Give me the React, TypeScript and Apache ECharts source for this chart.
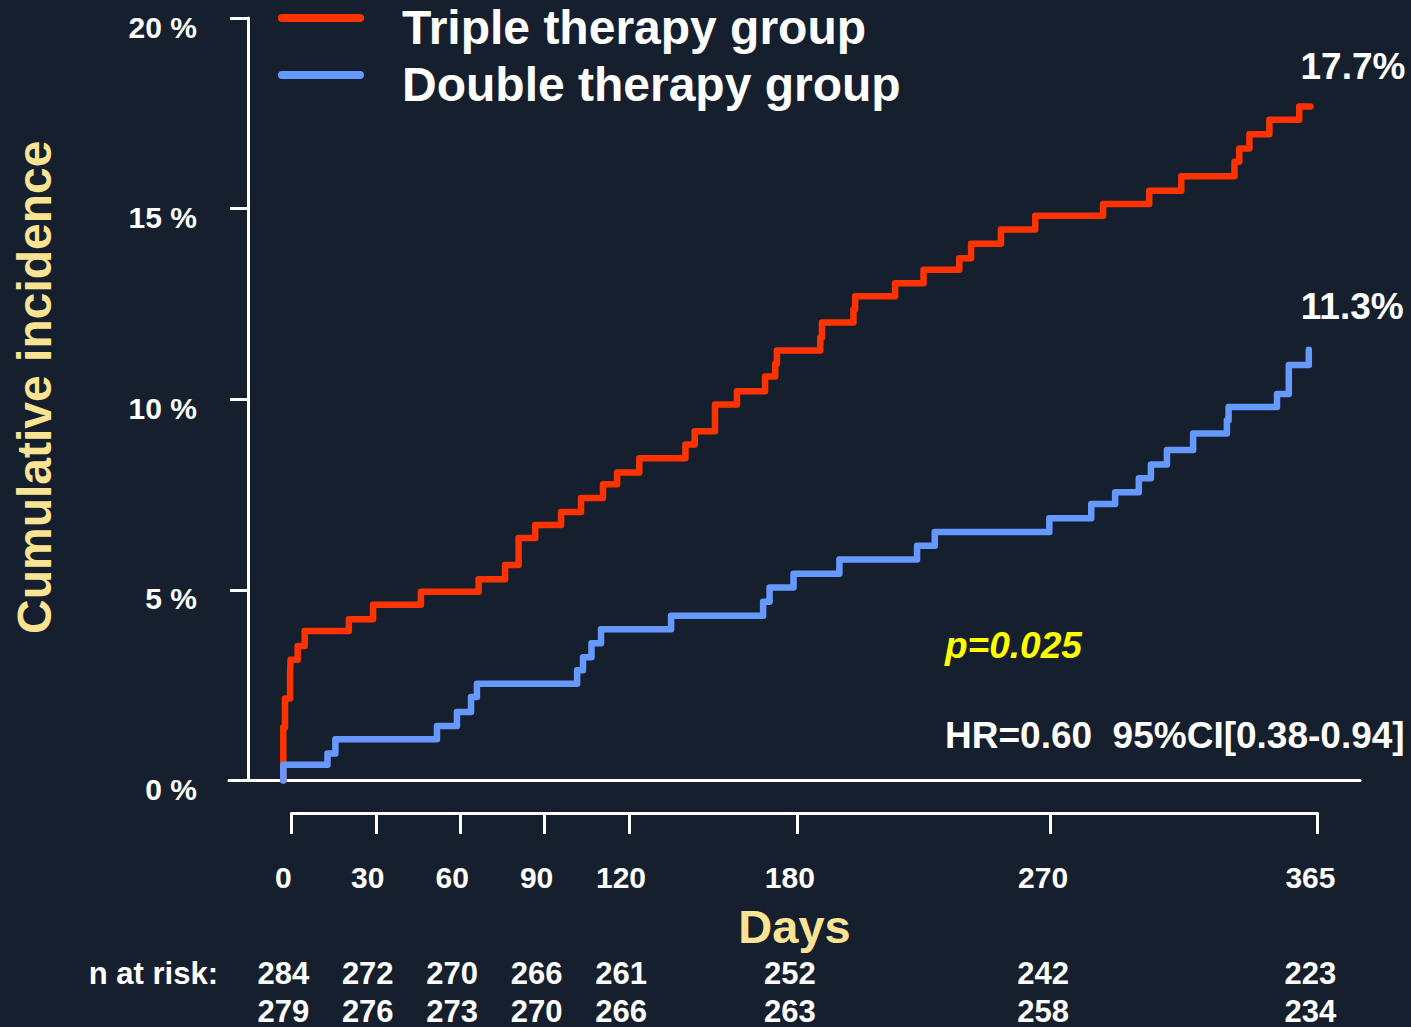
import React, { useEffect, useRef } from "react";
import * as echarts from "echarts";

const seriesNames = ["Triple therapy group", "Double therapy group"];
const dayTicks = [0, 30, 60, 90, 120, 180, 270, 365];
const riskTriple = [284, 272, 270, 266, 261, 252, 242, 223];
const riskDouble = [279, 276, 273, 270, 266, 263, 258, 234];
const endLabels = ["17.7%", "11.3%"];

const tripleDays = [0, 0, 0.6, 2.4, 2.6, 5.1, 7.6, 23.3, 31.9, 48.9, 69.4, 78.8, 83.6, 89.5, 98.7, 105.8, 113.6, 118.6, 126.5, 142.9, 146.2, 153.4, 161.2, 171.2, 174.8, 175.4, 190.8, 191.4, 202.6, 203.2, 217.4, 227.5, 240.2, 244.4, 255.0, 267.2, 291.3, 307.7, 319.1, 338.0, 339.7, 343.3, 350.4, 361.0, 365];
const tripleValues = [0, 1.4, 2.15, 2.84, 3.17, 3.53, 3.92, 4.23, 4.61, 4.95, 5.28, 5.65, 6.36, 6.7, 7.04, 7.41, 7.77, 8.08, 8.45, 8.81, 9.16, 9.86, 10.21, 10.6, 10.93, 11.28, 11.62, 12.01, 12.36, 12.7, 13.04, 13.4, 13.7, 14.08, 14.45, 14.81, 15.12, 15.47, 15.85, 16.23, 16.58, 16.95, 17.33, 17.68, 17.68];

const doubleDays = [0, 0, 15.7, 18.5, 54.6, 61.7, 66.7, 68.8, 104.4, 106.5, 109.5, 112.9, 137.8, 170.5, 172.8, 181.3, 197.6, 225.2, 231.5, 272.2, 287.1, 295.6, 304.0, 308.3, 314.0, 323.3, 335.3, 335.9, 353.1, 357.3, 364.4];
const doubleValues = [0, 0.41, 0.71, 1.08, 1.43, 1.8, 2.19, 2.54, 2.89, 3.23, 3.6, 3.97, 4.32, 4.69, 5.06, 5.42, 5.8, 6.16, 6.52, 6.88, 7.25, 7.56, 7.93, 8.29, 8.67, 9.1, 9.45, 9.8, 10.14, 10.9, 11.3];

const FONT = "'Liberation Sans', Arial, sans-serif";
const WHITE = "#ffffff";
const YELLOW_TITLE = "#fbe394";
const RED = "#ff3300";
const BLUE = "#6699ff";

// legend bar sits in the upper part of the icon box so the text centre falls ~9px lower
const LEGEND_ICON = "path://M4,0 H82 A4,4 0 0 1 82,8 H4 A4,4 0 0 1 4,0 Z M0,25.9 H0.1 V26 H0 Z";

function pairs(xs: number[], ys: number[]) {
  return xs.map((x, i) => [x, ys[i]]);
}

function riskFormatter(arr: number[]) {
  return (v: number) => {
    const idx = dayTicks.indexOf(Math.round(v));
    return idx >= 0 ? String(arr[idx]) : "";
  };
}

export default function App() {
  const ref = useRef<HTMLDivElement>(null);
  useEffect(() => {
    if (!ref.current) return;
    const chart = echarts.init(ref.current, null, { renderer: "svg" });
    const labelStyle = { color: WHITE, fontFamily: FONT, fontWeight: "bold" as const };
    chart.setOption({
      animation: false,
      backgroundColor: "#161f2e",
      grid: [
        { left: 229, width: 1131, top: 18, height: 766 },
        { left: 291.4, width: 1026.3, top: 811, height: 2 },
      ],
      legend: {
        orient: "vertical",
        left: 278,
        top: 3,
        padding: 0,
        data: seriesNames,
        icon: LEGEND_ICON,
        itemWidth: 86,
        itemHeight: 26,
        itemGap: 9,
        textStyle: { ...labelStyle, fontSize: 48, padding: [0, 0, 0, 33] },
      },
      xAxis: [
        {
          gridIndex: 0,
          type: "value",
          min: -19.3,
          max: 382.6,
          name: "Days",
          nameLocation: "middle",
          nameGap: 146,
          nameTextStyle: { color: YELLOW_TITLE, fontFamily: FONT, fontWeight: "bold", fontSize: 47, verticalAlign: "middle" },
          axisLine: { show: true, onZero: false, lineStyle: { color: WHITE, width: 3 } },
          axisTick: { show: false },
          splitLine: { show: false },
          axisLabel: { ...labelStyle, fontSize: 30, customValues: dayTicks, margin: 97, verticalAlign: "middle" },
        },
        {
          gridIndex: 1,
          type: "value",
          min: 0,
          max: 365,
          position: "bottom",
          axisLine: { show: true, onZero: false, lineStyle: { color: WHITE, width: 3 } },
          axisTick: { show: true, customValues: dayTicks, length: 21, lineStyle: { color: WHITE, width: 3 } },
          axisLabel: { show: false },
          splitLine: { show: false },
        },
        {
          gridIndex: 0,
          type: "value",
          min: -19.3,
          max: 382.6,
          position: "bottom",
          offset: 193,
          name: "n at risk:",
          nameLocation: "start",
          nameGap: 11,
          nameTextStyle: { ...labelStyle, fontSize: 31, verticalAlign: "middle" },
          axisLine: { show: false, onZero: false },
          axisTick: { show: false },
          splitLine: { show: false },
          axisLabel: { ...labelStyle, fontSize: 31, customValues: dayTicks, margin: 0, verticalAlign: "middle", formatter: riskFormatter(riskTriple) },
        },
        {
          gridIndex: 0,
          type: "value",
          min: -19.3,
          max: 382.6,
          position: "bottom",
          offset: 231,
          axisLine: { show: false, onZero: false },
          axisTick: { show: false },
          splitLine: { show: false },
          axisLabel: { ...labelStyle, fontSize: 31, customValues: dayTicks, margin: 0, verticalAlign: "middle", formatter: riskFormatter(riskDouble) },
        },
      ],
      yAxis: [
        {
          gridIndex: 0,
          type: "value",
          min: 0,
          max: 20,
          interval: 5,
          offset: -19,
          name: "Cumulative incidence",
          nameLocation: "middle",
          nameGap: 214,
          nameTextStyle: { color: YELLOW_TITLE, fontFamily: FONT, fontWeight: "bold", fontSize: 48, verticalAlign: "middle", padding: [0, 0, 0, 24] },
          axisLine: { show: true, onZero: false, lineStyle: { color: WHITE, width: 3 } },
          axisTick: { show: true, length: 18, lineStyle: { color: WHITE, width: 3 } },
          splitLine: { show: false },
          axisLabel: { ...labelStyle, fontSize: 30, margin: 51, formatter: "{value} %", verticalAlign: "top", lineHeight: 18 },
        },
        { gridIndex: 1, type: "value", show: false, min: 0, max: 1 },
      ],
      series: [
        {
          name: seriesNames[0],
          type: "line",
          xAxisIndex: 0,
          yAxisIndex: 0,
          step: "end",
          showSymbol: false,
          clip: false,
          color: RED,
          lineStyle: { color: RED, width: 6.5, cap: "round", join: "round" },
          data: pairs(tripleDays, tripleValues),
          endLabel: {
            show: true,
            formatter: () => endLabels[0],
            ...labelStyle,
            fontSize: 37,
            offset: [-18, -40],
          },
        },
        {
          name: seriesNames[1],
          type: "line",
          xAxisIndex: 0,
          yAxisIndex: 0,
          step: "end",
          showSymbol: false,
          clip: false,
          color: BLUE,
          lineStyle: { color: BLUE, width: 6.5, cap: "round", join: "round" },
          data: pairs(doubleDays, doubleValues),
          endLabel: {
            show: true,
            formatter: () => endLabels[1],
            ...labelStyle,
            fontSize: 37,
            offset: [-16, -43],
          },
        },
      ],
      graphic: [
        {
          type: "text",
          x: 945,
          y: 645,
          style: { text: "p=0.025", fill: "#ffff00", font: `italic bold 37px ${FONT}`, verticalAlign: "middle" },
        },
        {
          type: "text",
          x: 945,
          y: 735,
          style: { text: "HR=0.60  95%CI[0.38-0.94]", fill: WHITE, font: `bold 37px ${FONT}`, verticalAlign: "middle" },
        },
      ],
    });
    return () => chart.dispose();
  }, []);
  return (
    <div
      ref={ref}
      style={{ position: "fixed", left: 0, top: 0, width: 1411, height: 1027 }}
    />
  );
}
